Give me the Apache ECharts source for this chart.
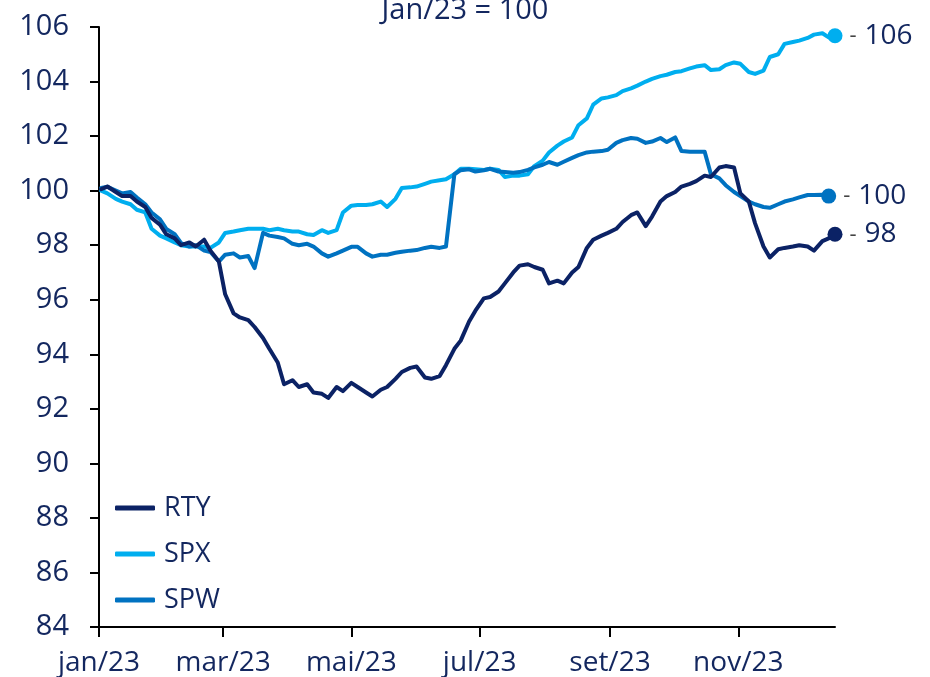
<!DOCTYPE html>
<html lang="pt" style="height: 100%">
<head>
  <meta charset="UTF-8">
</head>
<body style="height: 100%; margin: 0">
  <div id="container" style="width: 930px; height: 677px"></div>
  <script type="text/javascript" src="https://fastly.jsdelivr.net/npm/echarts@6/dist/echarts.min.js"></script>
  <script type="text/javascript">
    // sampled Mon/Thu, Jan/23 = 100
    var dates = [
      '2023-01-02', '2023-01-05', '2023-01-09', '2023-01-12', '2023-01-16', '2023-01-19', '2023-01-23', '2023-01-26', '2023-01-30',
      '2023-02-02', '2023-02-06', '2023-02-09', '2023-02-13', '2023-02-16', '2023-02-20', '2023-02-23', '2023-02-27',
      '2023-03-02', '2023-03-06', '2023-03-09', '2023-03-13', '2023-03-16', '2023-03-20', '2023-03-23', '2023-03-27', '2023-03-30',
      '2023-04-03', '2023-04-06', '2023-04-10', '2023-04-13', '2023-04-17', '2023-04-20', '2023-04-24', '2023-04-27',
      '2023-05-01', '2023-05-04', '2023-05-08', '2023-05-11', '2023-05-15', '2023-05-18', '2023-05-22', '2023-05-25', '2023-05-29',
      '2023-06-01', '2023-06-05', '2023-06-08', '2023-06-12', '2023-06-15', '2023-06-19', '2023-06-22', '2023-06-26', '2023-06-29',
      '2023-07-03', '2023-07-06', '2023-07-10', '2023-07-13', '2023-07-17', '2023-07-20', '2023-07-24', '2023-07-27', '2023-07-31',
      '2023-08-03', '2023-08-07', '2023-08-10', '2023-08-14', '2023-08-17', '2023-08-21', '2023-08-24', '2023-08-28', '2023-08-31',
      '2023-09-04', '2023-09-07', '2023-09-11', '2023-09-14', '2023-09-18', '2023-09-21', '2023-09-25', '2023-09-28',
      '2023-10-02', '2023-10-05', '2023-10-09', '2023-10-12', '2023-10-16', '2023-10-19', '2023-10-23', '2023-10-26', '2023-10-30',
      '2023-11-02', '2023-11-06', '2023-11-09', '2023-11-13', '2023-11-16', '2023-11-20', '2023-11-23', '2023-11-27', '2023-11-30',
      '2023-12-04', '2023-12-07', '2023-12-11', '2023-12-14', '2023-12-17'
    ];

    var rty = [
      100.05, 100.15, 99.95, 99.8, 99.8, 99.6, 99.4, 99.0, 98.75,
      98.4, 98.25, 98.0, 98.1, 97.95, 98.2, 97.8, 97.4,
      96.2, 95.5, 95.35, 95.25, 95.0, 94.6, 94.2, 93.7, 92.9,
      93.05, 92.8, 92.9, 92.6, 92.55, 92.4, 92.8, 92.65,
      92.95, 92.8, 92.6, 92.45, 92.7, 92.8, 93.1, 93.35, 93.5,
      93.55, 93.15, 93.1, 93.2, 93.6, 94.2, 94.5, 95.2, 95.6,
      96.05, 96.1, 96.3, 96.6, 97.0, 97.25, 97.3, 97.2, 97.1,
      96.6, 96.7, 96.6, 97.0, 97.2, 97.9, 98.2, 98.35, 98.45,
      98.6, 98.85, 99.1, 99.2, 98.7, 99.05, 99.6, 99.8,
      99.95, 100.15, 100.25, 100.35, 100.55, 100.5, 100.85, 100.9, 100.85,
      99.9, 99.6, 98.8, 97.95, 97.55, 97.85, 97.9, 97.95, 98.0,
      97.95, 97.8, 98.15, 98.25, 98.4
    ];

    var spx = [
      100.0, 99.9, 99.7, 99.6, 99.5, 99.3, 99.2, 98.6, 98.35,
      98.25, 98.1, 98.0, 97.95, 97.95, 97.95, 97.9, 98.1,
      98.45, 98.5, 98.55, 98.6, 98.6, 98.6, 98.55, 98.6, 98.55,
      98.5, 98.5, 98.4, 98.37, 98.55, 98.45, 98.55, 99.2,
      99.45, 99.47, 99.47, 99.5, 99.6, 99.4, 99.7, 100.1, 100.12,
      100.15, 100.25, 100.33, 100.38, 100.42, 100.6, 100.8, 100.8, 100.78,
      100.76, 100.8, 100.76, 100.5, 100.55, 100.55, 100.6, 100.9, 101.1,
      101.4, 101.65, 101.8, 101.95, 102.4, 102.65, 103.15, 103.38, 103.42,
      103.5, 103.65, 103.75, 103.85, 104.0, 104.1, 104.2, 104.25,
      104.35, 104.38, 104.48, 104.55, 104.6, 104.42, 104.45, 104.6, 104.7,
      104.65, 104.35, 104.28, 104.4, 104.9, 105.0, 105.38, 105.45, 105.5,
      105.6, 105.72, 105.77, 105.62, 105.68
    ];

    var spw = [
      100.1, 100.14, 100.0, 99.9, 99.95, 99.75, 99.5, 99.2, 98.95,
      98.6, 98.4, 98.08, 97.95, 98.0, 97.8, 97.75, 97.4,
      97.65, 97.7, 97.55, 97.6, 97.16, 98.45, 98.35, 98.3, 98.25,
      98.05, 98.0, 98.05, 97.95, 97.7, 97.58, 97.7, 97.8,
      97.94, 97.94, 97.7, 97.58, 97.65, 97.65, 97.72, 97.76, 97.8,
      97.82, 97.9, 97.94, 97.9, 97.95, 100.6, 100.75, 100.78, 100.7,
      100.75, 100.8, 100.7, 100.68, 100.66, 100.68, 100.76, 100.85, 100.95,
      101.05, 100.95, 101.06, 101.2, 101.3, 101.4, 101.43, 101.45, 101.5,
      101.75, 101.85, 101.93, 101.9, 101.75, 101.8, 101.93, 101.78,
      101.95, 101.45, 101.43, 101.43, 101.43, 100.6, 100.45, 100.2, 99.95,
      99.8, 99.6, 99.5, 99.4, 99.37, 99.5, 99.6, 99.68, 99.75,
      99.84, 99.84, 99.85, 99.8, null
    ];

    var tickDates = ['2023-01-01', '2023-03-01', '2023-05-01', '2023-07-01', '2023-09-01', '2023-11-01'];
    var monthNames = ['jan', 'fev', 'mar', 'abr', 'mai', 'jun', 'jul', 'ago', 'set', 'out', 'nov', 'dez'];

    var navy = '#0B2265';
    var textColor = '#13275F';
    var font = 'Open Sans';

    function toTime(s) {
      var p = s.split('-');
      return new Date(+p[0], +p[1] - 1, +p[2]).getTime();
    }
    var times = dates.map(toTime);
    var tickTimes = tickDates.map(toTime);

    var lines = [
      { name: 'SPX', values: spx, color: '#00AEEF' },
      { name: 'SPW', values: spw, color: '#0072C1' },
      { name: 'RTY', values: rty, color: navy }
    ];

    var series = lines.map(function (l) {
      return {
        name: l.name,
        type: 'line',
        showSymbol: false,
        symbol: 'none',
        lineStyle: { width: 4, color: l.color, join: 'round', cap: 'round' },
        itemStyle: { color: l.color },
        data: times.map(function (t, i) { return [t, l.values[i]]; })
      };
    });

    // end dots with value labels
    var ends = lines.map(function (l) {
      var i = l.values.length - 1;
      while (l.values[i] == null) i--;
      return {
        value: [times[i], l.values[i]],
        itemStyle: { color: l.color, opacity: 1 }
      };
    });
    series.push({
      type: 'scatter',
      symbolSize: 15,
      z: 5,
      data: ends,
      itemStyle: { opacity: 1 },
      label: {
        show: true,
        position: 'right',
        distance: 7,
        formatter: function (p) {
          return '{d|-}{v|' + Math.round(p.value[1]) + '}';
        },
        rich: {
          d: { color: '#444', fontSize: 22, fontFamily: font },
          v: { color: textColor, fontSize: 28, fontFamily: font, padding: [0, 0, 0, 8] }
        }
      }
    });

    var chart = echarts.init(document.getElementById('container'));
    chart.setOption({
      backgroundColor: '#fff',
      animation: false,
      title: {
        text: 'Jan/23 = 100',
        left: 'center',
        top: -9,
        textStyle: { color: textColor, fontSize: 29, fontWeight: 'normal', fontFamily: font }
      },
      legend: {
        data: ['RTY', 'SPX', 'SPW'],
        orient: 'vertical',
        left: 110,
        top: 488,
        icon: 'roundRect',
        itemWidth: 40,
        itemHeight: 5,
        itemGap: 16,
        textStyle: { color: textColor, fontSize: 27, fontFamily: font, lineHeight: 30, padding: [0, 0, 0, 4] }
      },
      grid: { left: 99, right: 95, top: 27, bottom: 50, containLabel: false },
      xAxis: {
        type: 'value',
        min: toTime('2023-01-01'),
        max: toTime('2023-12-17'),
        axisLine: { lineStyle: { color: '#000', width: 2 } },
        axisTick: { show: true, length: 10, lineStyle: { color: '#000', width: 2 }, customValues: tickTimes },
        axisLabel: {
          customValues: tickTimes,
          color: textColor,
          fontSize: 28,
          fontFamily: font,
          margin: 22,
          formatter: function (v) {
            var d = new Date(v);
            return monthNames[d.getMonth()] + '/' + String(d.getFullYear()).slice(2);
          }
        },
        splitLine: { show: false }
      },
      yAxis: {
        type: 'value',
        min: 84,
        max: 106,
        interval: 2,
        axisLine: { show: true, lineStyle: { color: '#000', width: 2 } },
        axisTick: { show: true, length: 9, lineStyle: { color: '#000', width: 2 } },
        axisLabel: { color: textColor, fontSize: 29, fontFamily: font, margin: 30 },
        splitLine: { show: false }
      },
      series: series
    });
  </script>
</body>
</html>
